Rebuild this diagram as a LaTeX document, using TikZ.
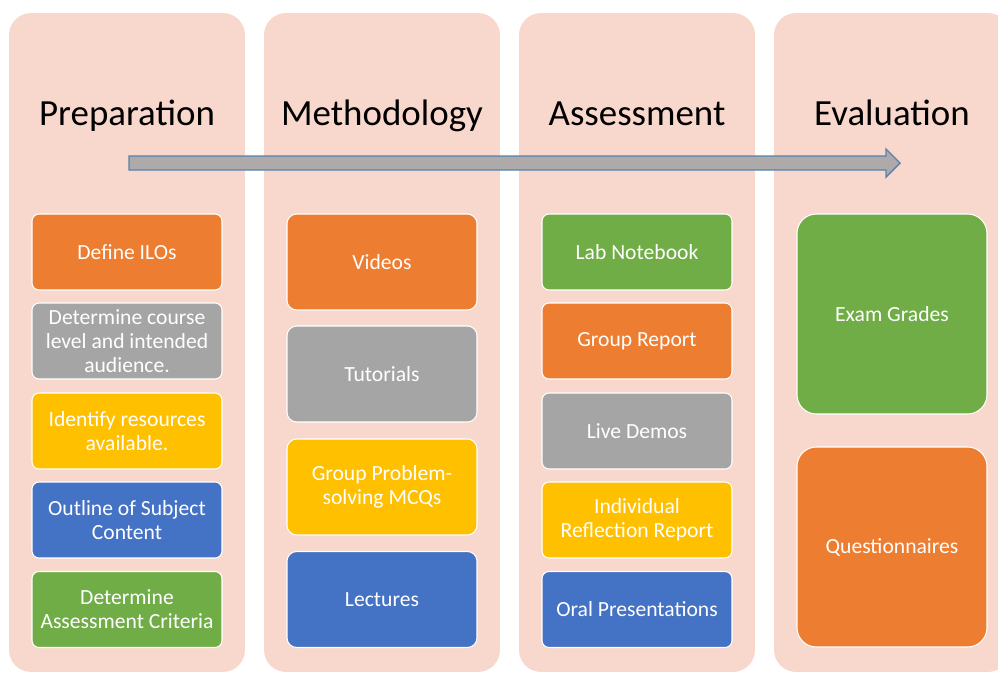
\documentclass[tikz,border=0pt]{standalone}
\usepackage{fontspec}
\setmainfont{Carlito}
\definecolor{peach}{HTML}{F8D7CC}
\definecolor{orng}{HTML}{ED7D31}
\definecolor{gry}{HTML}{A5A5A5}
\definecolor{gold}{HTML}{FFC000}
\definecolor{blu}{HTML}{4472C4}
\definecolor{grn}{HTML}{70AD47}
\definecolor{shaft}{HTML}{AEAAAA}
\definecolor{rim}{HTML}{5582B0}

\begin{document}
\begin{tikzpicture}[x=0.02cm,y=-0.02cm,
		column/.style={fill=peach,draw=none,rounded corners=12.5pt,minimum width=4.72cm,minimum height=13.18cm,inner sep=0pt},
		title/.style={anchor=base,font=\fontsize{21}{25}\selectfont,text=black},
		item/.style={draw=white,line width=0.6pt,text=white,align=center,minimum width=3.8cm,inner sep=0pt,font=\fontsize{12.3}{13.6}\selectfont},
		small/.style={item,minimum height=1.52cm,rounded corners=4pt},
		mid/.style={item,minimum height=1.92cm,rounded corners=5.5pt},
		tall/.style={item,minimum height=4cm,rounded corners=11pt}]
			\useasboundingbox (0,0) rectangle (998,673);
			\clip (0,0) rectangle (998,673);
			% columns
			\node[column] (prep) at (127,342.5) {};
			\node[column] (meth) at (382,342.5) {};
			\node[column] (asse) at (637,342.5) {};
			\node[column] (eval) at (892,342.5) {};
			\node[title] (Tp) at (127,125) {Preparation};
			\node[title] (Tm) at (382,125) {Methodology};
			\node[title] (Ta) at (637,125) {Assessment};
			\node[title] (Te) at (892,125) {Evaluation};
			% timeline arrow
			\draw[fill=shaft,draw=rim,line width=0.8pt] (129,156) -- (886,156) -- (886,149) -- (900,163) -- (886,177) -- (886,170) -- (129,170) -- cycle;
			% preparation
			\node[small,fill=orng] (P1) at (127,252) {Define ILOs};
			\node[small,fill=gry] (P2) at (127,341) {Determine course\\level and intended\\audience.};
			\node[small,fill=gold] (P3) at (127,431) {Identify resources\\available.};
			\node[small,fill=blu] (P4) at (127,520) {Outline of Subject\\Content};
			\node[small,fill=grn] (P5) at (127,609.5) {Determine\\Assessment Criteria};
			% methodology
			\node[mid,fill=orng] (M1) at (382,262) {Videos};
			\node[mid,fill=gry] (M2) at (382,374) {Tutorials};
			\node[mid,fill=gold] (M3) at (382,487) {Group Problem-\\solving MCQs};
			\node[mid,fill=blu] (M4) at (382,599.5) {Lectures};
			% assessment
			\node[small,fill=grn] (A1) at (637,252) {Lab Notebook};
			\node[small,fill=orng] (A2) at (637,341) {Group Report};
			\node[small,fill=gry] (A3) at (637,431) {Live Demos};
			\node[small,fill=gold] (A4) at (637,520) {Individual\\Reflection Report};
			\node[small,fill=blu] (A5) at (637,609.5) {Oral Presentations};
			% evaluation
			\node[tall,fill=grn] (E1) at (892,314) {Exam Grades};
			\node[tall,fill=orng] (E2) at (892,547) {Questionnaires};
		\end{tikzpicture}
\end{document}
